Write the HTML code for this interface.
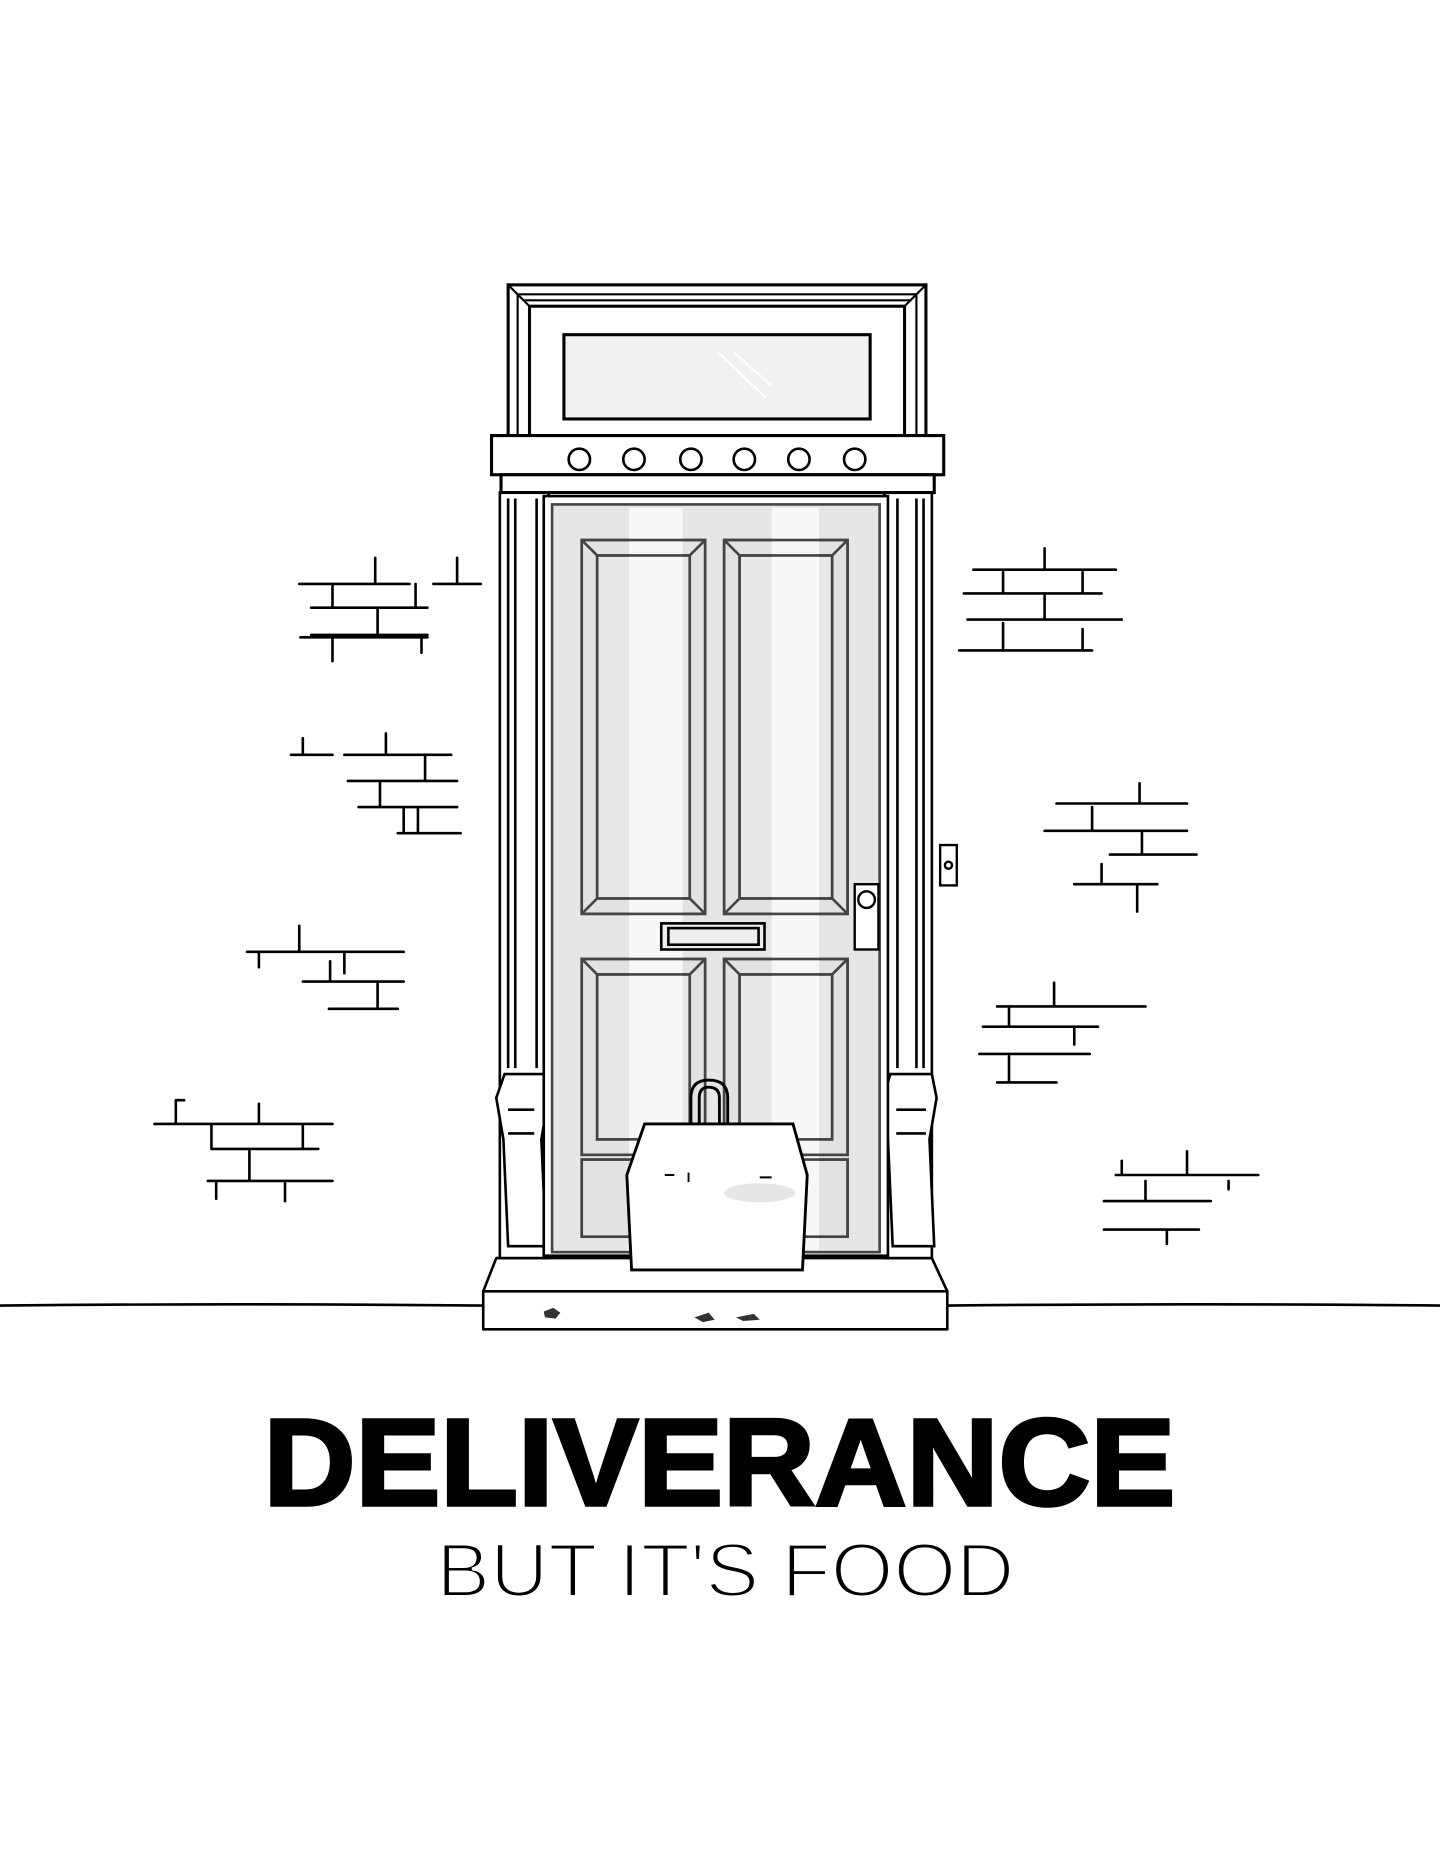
<!DOCTYPE html>
<html><head><meta charset="utf-8"><style>
html,body{margin:0;padding:0;background:#fff;}
svg{display:block;}
</style></head><body>
<svg width="1440" height="1861" viewBox="0 0 1213 1568" xmlns="http://www.w3.org/2000/svg">
<rect width="1213" height="1568" fill="#fff"/>
<g fill="none" stroke="#000" stroke-width="2.2" stroke-linecap="round">
<path d="M0 1100 Q200 1098 407 1100 M798 1100 Q1000 1098 1213 1100"/>
<path d="M252 492H345 M365 492H405 M385 492V470 M316 492V470 M262 512H360 M280 512V492 M350 512V492 M262 535H360 M318 535V512 M253 537H360 M280 537V557 M355 537V550
M245 636H280 M255 636V622 M290 636H380 M325 636V618 M293 658H385 M358 658V636 M302 680H385 M320 680V658 M335 702H388 M352 702V680 M340 680V702
M208 802H250 M218 802V815 M228 802H340 M252 802V780 M290 802V820 M255 827H340 M278 827V810 M277 850H335 M318 850V827
M130 947H180 M148 947V927 M148 927H155 M165 947H280 M218 947V930 M178 947V967 M178 968H268 M255 968V947 M175 995H280 M210 995V968 M240 995V1012 M182 995V1010"/>
<path d="M820 480H940 M880 480V462 M812 500H928 M845 500V482 M912 500V482 M815 522H945 M880 522V502 M808 548H920 M845 548V525 M912 548V530
M890 677H1000 M960 677V660 M880 700H1000 M920 700V680 M935 720H1008 M962 720V700 M905 745H975 M928 745V728 M958 745V768
M840 848H965 M888 848V828 M828 865H925 M850 865V848 M905 865V880 M825 888H918 M840 912H890 M850 890V912
M940 990H1060 M1000 990V970 M945 990V978 M930 1012H1020 M965 1012V995 M930 1036H1010 M983 1036V1048 M1035 995V1002"/>
</g>
<g stroke="#000" stroke-width="2.2" fill="#fff" stroke-linejoin="round">
<path d="M418 1060H785L798 1088H407Z"/>
<rect x="407" y="1088" width="391" height="32"/>
</g>
<g fill="#333"><path d="M458 1105l8-3 6 4-4 5-9-1z M585 1110l12-4 5 6-10 2z M620 1110l15-3 5 5-14 1z M438 1045l6-8 6 6-5 6z M760 1040l8-4 3 9-8 2z"/></g>
<g stroke="#000" stroke-width="2.2" fill="#fff">
<rect x="421" y="415" width="41" height="645"/>
<rect x="745" y="415" width="40" height="645"/>
<path d="M428 420V900 M434 420V900 M452 420V900 M756 420V900 M772 420V900 M778 420V900" fill="none"/>
<path d="M425 905H458L462 925L456 960L460 1050H428L424 960L418 925Z"/>
<path d="M750 905H785L789 925L783 960L787 1050H752L748 960L744 925Z"/>
<path d="M428 935H450 M428 955H450 M755 935H780 M755 955H780" fill="none"/>
</g>
<g stroke="#000" stroke-width="2.6" fill="#fff">
<rect x="428" y="240" width="352" height="127"/>
<rect x="446" y="258" width="316" height="109" fill="none"/>
<path d="M428 240L446 258 M780 240L762 258 M436 248V367 M772 248V367 M436 248H772 M441 253H767" fill="none" stroke-width="1.8"/>
<rect x="475" y="282" width="258" height="71" fill="#f1f1f1"/>
<path d="M605 297L645 335 M618 297L650 325" stroke="#fff" stroke-width="2" fill="none"/>
<rect x="414" y="367" width="381" height="33"/>
<rect x="422" y="400" width="365" height="15"/>
</g>
<g stroke="#000" stroke-width="2.2" fill="#fff">
<circle cx="488" cy="387" r="9"/><circle cx="534" cy="387" r="9"/><circle cx="582" cy="387" r="9"/>
<circle cx="627" cy="387" r="9"/><circle cx="673" cy="387" r="9"/><circle cx="720" cy="387" r="9"/>
</g>
<g stroke="#000" stroke-width="2.2">
<rect x="458" y="418" width="290" height="640" fill="#fff"/>
<rect x="465" y="425" width="276" height="630" fill="#e6e6e6" stroke="#444"/>
</g>
<g stroke="#444" stroke-width="2.2" fill="#e2e2e2">
<rect x="490" y="455" width="104" height="315"/><rect x="503" y="468" width="78" height="289" fill="#e8e8e8"/>
<rect x="610" y="455" width="104" height="315"/><rect x="623" y="468" width="78" height="289" fill="#e8e8e8"/>
<rect x="490" y="808" width="104" height="165"/><rect x="503" y="821" width="78" height="139" fill="#e8e8e8"/>
<rect x="610" y="808" width="104" height="165"/><rect x="623" y="821" width="78" height="139" fill="#e8e8e8"/>
<rect x="490" y="977" width="224" height="65"/>
</g>
<g fill="#fafafa" opacity="0.85"><rect x="530" y="428" width="45" height="625"/><rect x="650" y="428" width="40" height="625"/></g>
<g stroke="#444" stroke-width="2.2" fill="none">
<rect x="490" y="455" width="104" height="315"/><rect x="503" y="468" width="78" height="289"/>
<rect x="610" y="455" width="104" height="315"/><rect x="623" y="468" width="78" height="289"/>
<rect x="490" y="808" width="104" height="165"/><rect x="503" y="821" width="78" height="139"/>
<rect x="610" y="808" width="104" height="165"/><rect x="623" y="821" width="78" height="139"/>
<rect x="490" y="977" width="224" height="65"/>
<path d="M490 455l13 13 M594 455l-13 13 M490 770l13-13 M594 770l-13-13 M610 455l13 13 M714 455l-13 13 M610 770l13-13 M714 770l-13-13 M490 808l13 13 M594 808l-13 13 M610 808l13 13 M714 808l-13 13"/>
<rect x="557" y="778" width="87" height="22" fill="#eee" stroke="#000"/>
<rect x="563" y="782" width="76" height="14" stroke="#000"/>
</g>
<g stroke="#000" stroke-width="2" fill="#fff">
<rect x="720" y="745" width="20" height="55"/><circle cx="730" cy="758" r="7"/>
<rect x="792" y="712" width="14" height="34"/><circle cx="799" cy="729" r="3"/>
</g>
<g stroke="#000" stroke-width="2.4" fill="#fff">
<path d="M582 948V925Q582 910 597 910Q613 910 613 925V948 M589 948V925Q589 916 597 916Q606 916 606 925V948" fill="none"/>
<path d="M543 947H668L680 990L676 1070H532L528 990Z"/>
<path d="M560 990h8 M580 988v8 M640 992h10" fill="none" stroke-width="1.6"/>
</g>
<ellipse cx="640" cy="1005" rx="30" ry="8" fill="#e6e6e6"/>
<text x="606" y="1268" text-anchor="middle" font-family="'Liberation Sans',sans-serif" font-weight="bold" font-size="104" textLength="768" lengthAdjust="spacingAndGlyphs" stroke="#000" stroke-width="3">DELIVERANCE</text>
<text x="611" y="1345" text-anchor="middle" font-family="'Liberation Sans',sans-serif" font-size="64" textLength="487" lengthAdjust="spacingAndGlyphs" stroke="#fff" stroke-width="2.5" paint-order="fill">BUT IT'S FOOD</text>
</svg>
</body></html>
